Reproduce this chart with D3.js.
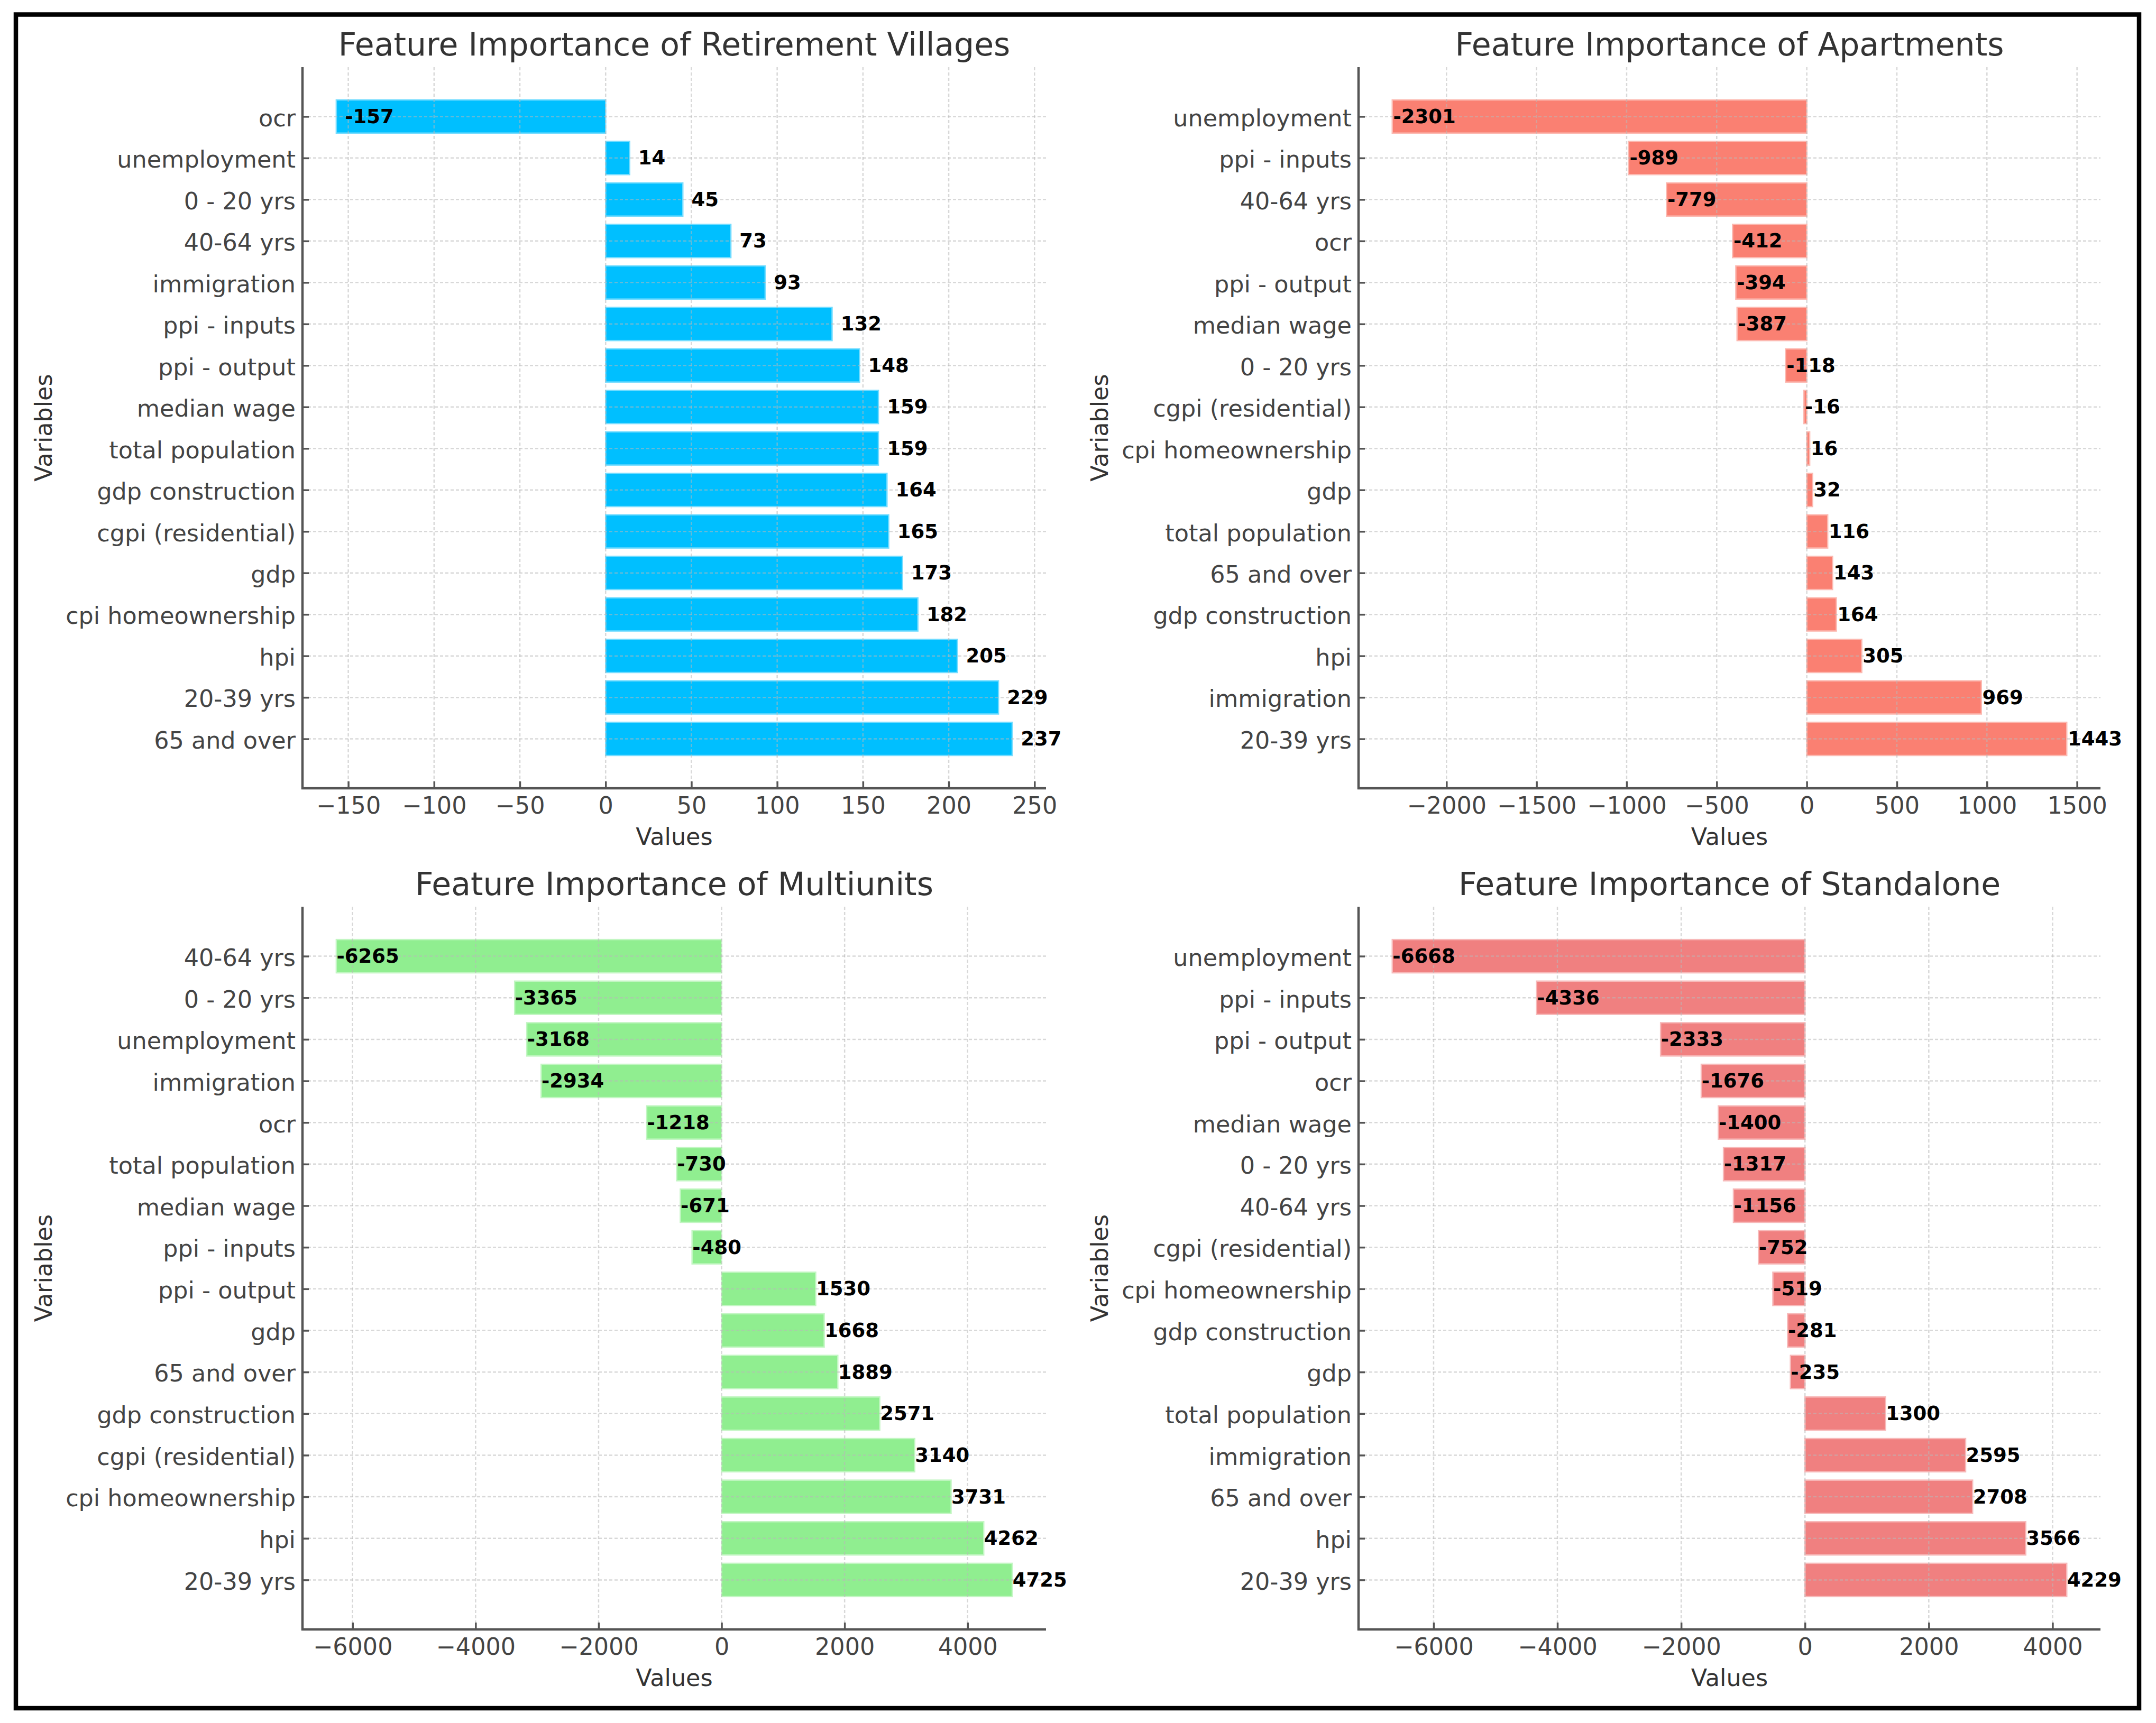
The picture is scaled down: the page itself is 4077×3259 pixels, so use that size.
<!DOCTYPE html>
<html><head><meta charset="utf-8">
<script src="https://cdn.jsdelivr.net/npm/d3@7"></script>
<style>html,body{margin:0;padding:0;background:#fff;} svg{display:block;}</style>
</head><body>
<svg id="chart" width="4077" height="3259"></svg>
<script>
// ---------------- DATA ----------------
const rvTitle = "Feature Importance of Retirement Villages";
const rvCategories = ["ocr","unemployment","0 - 20 yrs","40-64 yrs","immigration","ppi - inputs","ppi - output","median wage","total population","gdp construction","cgpi (residential)","gdp","cpi homeownership","hpi","20-39 yrs","65 and over"];
const rvValues = [-157,14,45,73,93,132,148,159,159,164,165,173,182,205,229,237];
const rvTicks = [-150,-100,-50,0,50,100,150,200,250];

const apTitle = "Feature Importance of Apartments";
const apCategories = ["unemployment","ppi - inputs","40-64 yrs","ocr","ppi - output","median wage","0 - 20 yrs","cgpi (residential)","cpi homeownership","gdp","total population","65 and over","gdp construction","hpi","immigration","20-39 yrs"];
const apValues = [-2301,-989,-779,-412,-394,-387,-118,-16,16,32,116,143,164,305,969,1443];
const apTicks = [-2000,-1500,-1000,-500,0,500,1000,1500];

const muTitle = "Feature Importance of Multiunits";
const muCategories = ["40-64 yrs","0 - 20 yrs","unemployment","immigration","ocr","total population","median wage","ppi - inputs","ppi - output","gdp","65 and over","gdp construction","cgpi (residential)","cpi homeownership","hpi","20-39 yrs"];
const muValues = [-6265,-3365,-3168,-2934,-1218,-730,-671,-480,1530,1668,1889,2571,3140,3731,4262,4725];
const muTicks = [-6000,-4000,-2000,0,2000,4000];

const saTitle = "Feature Importance of Standalone";
const saCategories = ["unemployment","ppi - inputs","ppi - output","ocr","median wage","0 - 20 yrs","40-64 yrs","cgpi (residential)","cpi homeownership","gdp construction","gdp","total population","immigration","65 and over","hpi","20-39 yrs"];
const saValues = [-6668,-4336,-2333,-1676,-1400,-1317,-1156,-752,-519,-281,-235,1300,2595,2708,3566,4229];
const saTicks = [-6000,-4000,-2000,0,2000,4000];

const xLabel = "Values";
const yLabel = "Variables";

// ---------------- LAYOUT ----------------
const panels = [
  {title: rvTitle, cats: rvCategories, vals: rvValues, ticks: rvTicks, color: "#00BFFF",
   box: {x0: 572, x1: 1978, y0: 127, y1: 1491}, ylabX: 98},
  {title: apTitle, cats: apCategories, vals: apValues, ticks: apTicks, color: "#FA8072",
   box: {x0: 2569, x1: 3972, y0: 127, y1: 1491}, ylabX: 2095},
  {title: muTitle, cats: muCategories, vals: muValues, ticks: muTicks, color: "#90EE90",
   box: {x0: 572, x1: 1978, y0: 1715, y1: 3082}, ylabX: 98},
  {title: saTitle, cats: saCategories, vals: saValues, ticks: saTicks, color: "#F08080",
   box: {x0: 2569, x1: 3972, y0: 1715, y1: 3082}, ylabX: 2095}
];

const FONT = "DejaVu Sans";
const svg = d3.select("#chart");
svg.append("rect").attr("x",0).attr("y",0).attr("width",4077).attr("height",3259).attr("fill","#fff");

panels.forEach(p => {
  const n = p.cats.length;
  const b = p.box;
  const vmin = Math.min(0, d3.min(p.vals)), vmax = Math.max(0, d3.max(p.vals));
  const xm = 0.05 * (vmax - vmin);
  const x = d3.scaleLinear().domain([vmin - xm, vmax + xm]).range([b.x0, b.x1]);
  const span = (n - 1) + 0.8, ym = 0.05 * span;
  const y = d3.scaleLinear().domain([-0.4 - ym, n - 1 + 0.4 + ym]).range([b.y0, b.y1]);
  const g = svg.append("g");

  // bars
  const edge = d3.interpolateRgb(p.color, "#ffffff")(0.45);
  g.append("g").selectAll("rect").data(p.vals).join("rect")
    .attr("x", d => x(Math.min(0, d)))
    .attr("width", d => Math.abs(x(d) - x(0)))
    .attr("y", (d, i) => y(i - 0.4))
    .attr("height", (d, i) => y(i + 0.4) - y(i - 0.4))
    .attr("fill", p.color)
    .attr("stroke", edge).attr("stroke-width", 2.5);

  // grid (drawn over bars, light)
  const grid = g.append("g").attr("stroke", "#b8b8b8").attr("stroke-opacity", 0.55)
    .attr("stroke-width", 2.5).attr("stroke-dasharray", "6,4");
  grid.selectAll("line.v").data(p.ticks).join("line").attr("class","v")
    .attr("x1", d => x(d)).attr("x2", d => x(d)).attr("y1", b.y0).attr("y2", b.y1);
  grid.selectAll("line.h").data(p.cats).join("line").attr("class","h")
    .attr("x1", b.x0).attr("x2", b.x1).attr("y1", (d, i) => y(i)).attr("y2", (d, i) => y(i));

  // x axis
  const gx = g.append("g").attr("transform", `translate(0,${b.y1})`)
    .call(d3.axisBottom(x).tickValues(p.ticks).tickFormat(d3.format("d")).tickSize(-13).tickPadding(0));
  gx.attr("font-family", FONT).attr("font-size", 44.5);
  gx.select(".domain").remove();
  gx.selectAll(".tick line").attr("stroke", "#555").attr("stroke-width", 3.5);
  gx.selectAll(".tick text").attr("y", 48).attr("dy", null).attr("fill", "#444");

  // y axis
  const gy = g.append("g").attr("transform", `translate(${b.x0},0)`)
    .call(d3.axisLeft(y).tickValues(d3.range(n)).tickFormat(i => p.cats[i]).tickSize(-12).tickPadding(13));
  gy.attr("font-family", FONT).attr("font-size", 44.5);
  gy.select(".domain").remove();
  gy.selectAll(".tick line").attr("stroke", "#555").attr("stroke-width", 3.5);
  gy.selectAll(".tick text").attr("dy", "0.40em").attr("fill", "#444");

  // spines
  g.append("line").attr("x1", b.x0).attr("x2", b.x0).attr("y1", b.y0).attr("y2", b.y1 + 2)
    .attr("stroke", "#555").attr("stroke-width", 4.5);
  g.append("line").attr("x1", b.x0 - 2).attr("x2", b.x1).attr("y1", b.y1).attr("y2", b.y1)
    .attr("stroke", "#555").attr("stroke-width", 4.5);

  // value labels
  g.append("g").selectAll("text").data(p.vals).join("text")
    .attr("x", d => x(d + 5))
    .attr("y", (d, i) => y(i))
    .attr("dy", "0.34em")
    .attr("font-family", FONT).attr("font-weight", "bold").attr("font-size", 37)
    .attr("fill", "#000").attr("text-anchor", "start")
    .text(d => String(d));

  // title
  g.append("text").attr("x", (b.x0 + b.x1) / 2).attr("y", b.y0 - 22)
    .attr("text-anchor", "middle").attr("font-family", FONT).attr("font-size", 60)
    .attr("fill", "#333").text(p.title);
  // x label
  g.append("text").attr("x", (b.x0 + b.x1) / 2).attr("y", b.y1 + 107)
    .attr("text-anchor", "middle").attr("font-family", FONT).attr("font-size", 44.5)
    .attr("fill", "#333").text(xLabel);
  // y label
  g.append("text").attr("transform", `translate(${p.ylabX},${(b.y0 + b.y1) / 2}) rotate(-90)`)
    .attr("text-anchor", "middle").attr("font-family", FONT).attr("font-size", 44.5)
    .attr("fill", "#333").text(yLabel);
});

// outer border
svg.append("rect").attr("x", 30).attr("y", 27.5).attr("width", 4015).attr("height", 3203.5)
  .attr("fill", "none").attr("stroke", "#000").attr("stroke-width", 8.5);
</script>
</body></html>
